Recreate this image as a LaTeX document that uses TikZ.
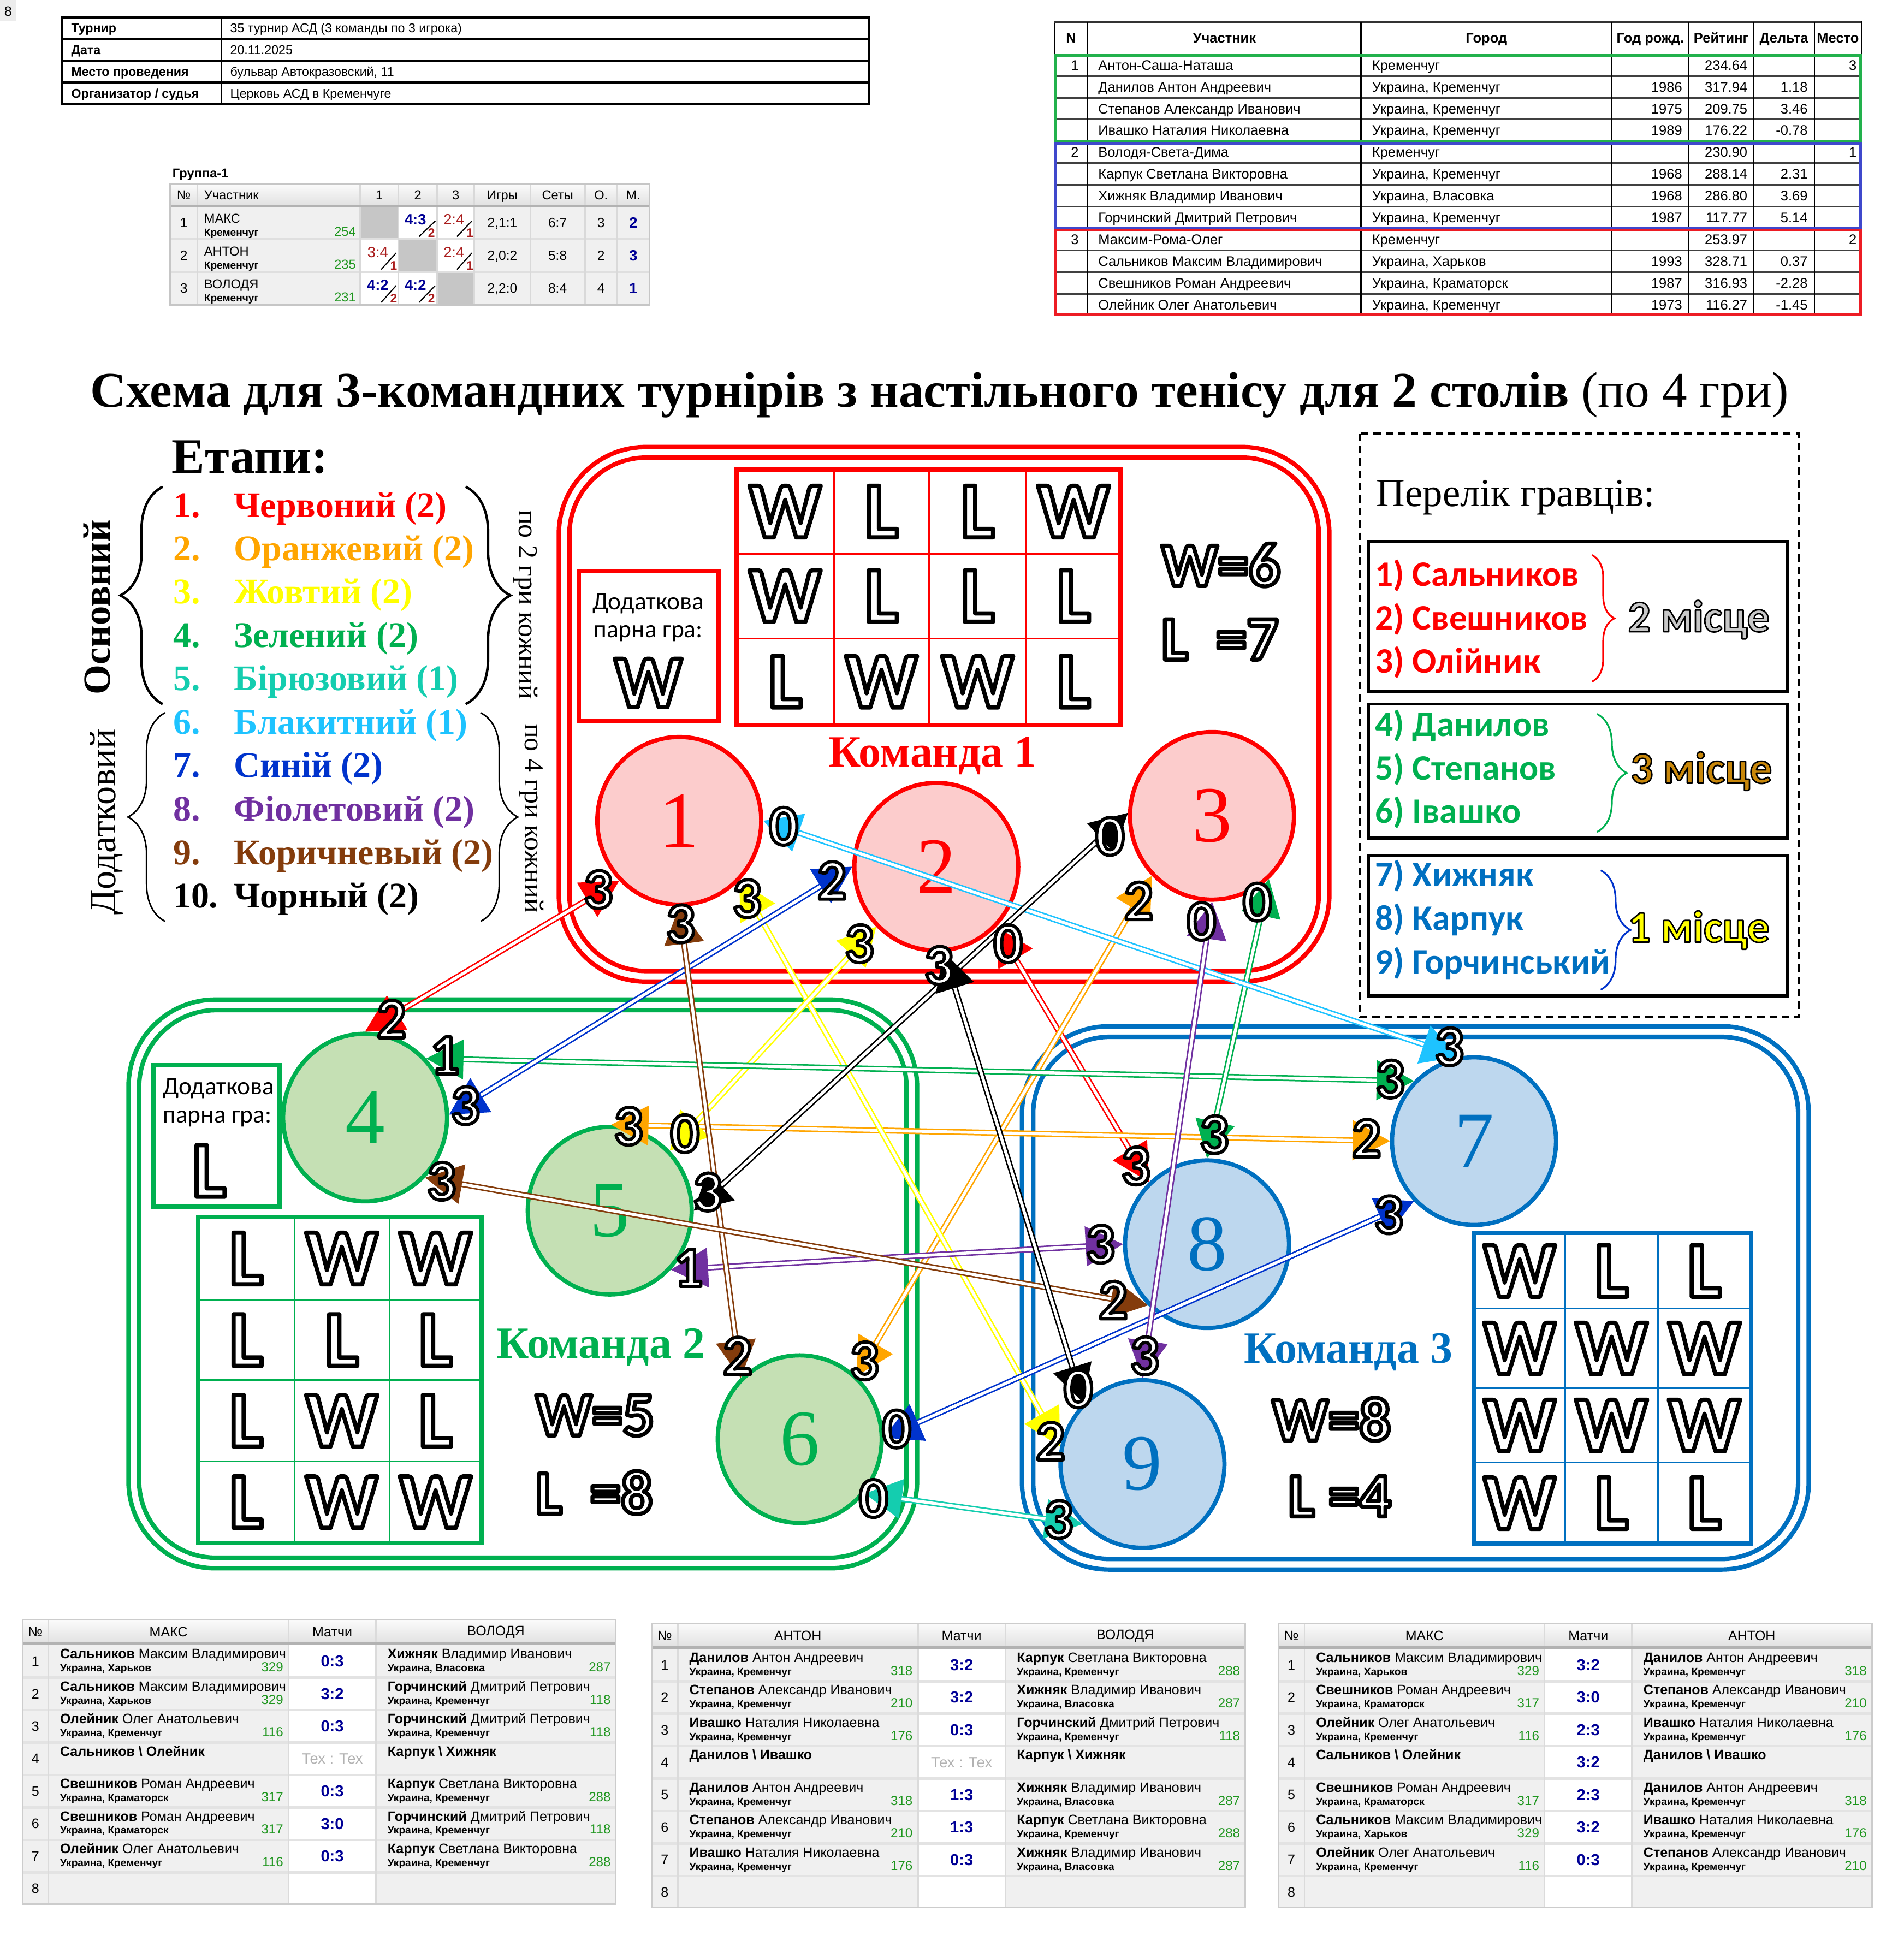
\documentclass[tikz,border=0pt]{standalone}
\usepackage{fontspec}
\setmainfont{Liberation Serif}
\newfontfamily\calf{Carlito}
\newfontfamily\ars{Liberation Sans}
\usetikzlibrary{shapes.geometric,arrows.meta,decorations.pathreplacing}
\newcommand\FS[1]{\fontsize{#1}{#1}\selectfont}
\newcommand\OL[2][1.3]{\special{pdf:literal direct 0 0 0 RG 1 j 2 Tr #1 w}#2\special{pdf:literal direct 0 Tr}}
\newcounter{nn}
\definecolor{cRed}{RGB}{255,0,0}
\definecolor{cOr}{RGB}{255,165,0}
\definecolor{cYe}{RGB}{255,255,0}
\definecolor{cGr}{RGB}{0,176,80}
\definecolor{cTu}{RGB}{20,205,175}
\definecolor{cLb}{RGB}{30,195,255}
\definecolor{cBl}{RGB}{0,51,204}
\definecolor{cPu}{RGB}{112,48,160}
\definecolor{cBr}{RGB}{132,60,12}
\definecolor{cBk}{RGB}{0,0,0}
\definecolor{cT1}{RGB}{252,204,204}
\definecolor{cT2}{RGB}{197,224,180}
\definecolor{cT3}{RGB}{189,215,238}
\definecolor{cB3}{RGB}{0,112,192}
\definecolor{tGr}{RGB}{34,177,76}
\definecolor{tBl}{RGB}{63,72,204}
\definecolor{tRd}{RGB}{237,28,36}
\definecolor{silv}{RGB}{200,200,200}
\definecolor{bronze}{RGB}{200,135,10}
\definecolor{sNavy}{RGB}{0,0,150}
\definecolor{sGreen}{RGB}{30,150,30}
\definecolor{dRed}{RGB}{170,30,30}
\newcommand\Tx[3]{\stepcounter{nn}\node[#1] (c\arabic{nn}) at (#2) {#3};}
\newcommand\TR[8]{%
 \pgfmathsetmacro\yy{56.4+17.54*#1}%
 \Tx{anchor=base east, font=\ars\FS{5.6}}{869,\yy}{#2}%
 \Tx{anchor=base west, font=\ars\FS{5.6}}{884,\yy}{#3}%
 \Tx{anchor=base west, font=\ars\FS{5.6}}{1104.5,\yy}{#4}%
 \Tx{anchor=base east, font=\ars\FS{5.6}}{1355,\yy}{#5}%
 \Tx{anchor=base east, font=\ars\FS{5.6}}{1407.5,\yy}{#6}%
 \Tx{anchor=base east, font=\ars\FS{5.6}}{1456,\yy}{#7}%
 \Tx{anchor=base east, font=\ars\FS{5.6}}{1495.5,\yy}{#8}}
\newcommand\BTab[4]{%
 \fill[gray!12] (#1,#2+19.5) rectangle (#1+478,#2+229);
 \fill[white] (#1+214.5,#2+19.5) rectangle (#1+284.7,#2+229);
 \shade[top color=gray!3, bottom color=gray!24] (#1,#2) rectangle (#1+478,#2+19.5);
 \foreach \k in {1,...,7} {\draw[gray!22, line width=1pt] (#1,#2+20.5+26.15*\k) -- (#1+478,#2+20.5+26.15*\k);}
 \foreach \xx in {21,214.5,284.7} {\draw[gray!28, line width=0.6pt] (#1+\xx,#2) -- (#1+\xx,#2+229);}
 \draw[gray!60, line width=1.1pt] (#1,#2+19.5) -- (#1+478,#2+19.5);
 \draw[gray!40, line width=0.6pt] (#1,#2) rectangle (#1+478,#2+229);
 \foreach \k in {1,...,8} {\stepcounter{nn}\node[font=\ars\FS{5.5}] (c\arabic{nn}) at (#1+10.5,#2+20.5+26.15*\k-13.1) {\k};}
 \Tx{font=\ars\FS{5.5}}{#1+10.5,#2+10}{№}
 \Tx{font=\ars\FS{5.5}}{#1+117.7,#2+10}{#3}
 \Tx{font=\ars\FS{5.5}}{#1+249.6,#2+10}{Матчи}
 \Tx{font=\ars\FS{5.5}}{#1+381.3,#2+10}{#4}}
\newcommand\PlC[6]{%
 \Tx{anchor=base west, font=\ars\FS{5.5}}{#1+9,#2+10.8}{\textbf{#3} #4}%
 \Tx{anchor=base west, font=\ars\bfseries\FS{4.2}}{#1+9,#2+21.3}{#5}%
 \Tx{anchor=base east, font=\ars\FS{5.3}, text=sGreen}{#1+189.5,#2+21.3}{#6}}
\newcommand\PairC[3]{\Tx{anchor=base west, font=\ars\bfseries\FS{5.5}}{#1+9,#2+10.8}{#3}}
\newcommand\ScC[3]{\Tx{font=\ars\bfseries\FS{6.4}, text=sNavy}{#1+249.6,#2+13}{#3}}
\newcommand\TexC[2]{\Tx{font=\ars\FS{6}, text=gray!60}{#1+249.6,#2+13}{Тех : Тех}}
\newcommand\Stg[4]{\Tx{anchor=base west, font=\bfseries\FS{14.5}, text=#2}{139,#1}{#3}\Tx{anchor=base west, font=\bfseries\FS{14.5}, text=#2}{188,#1}{#4}}
\begin{document}
\begin{tikzpicture}[x=0.5pt,y=-0.5pt,
 every node/.style={inner sep=0pt},
 pl/.style={ellipse, minimum width=66pt, minimum height=67.5pt, line width=1.7pt, font=\FS{32}},
 pA/.style={pl, draw=cRed, fill=cT1, text=cRed},
 pB/.style={pl, draw=cGr, fill=cT2, text=cGr},
 pC/.style={pl, draw=cB3, fill=cT3, text=cB3},
 mline/.style={draw=#1, line width=0.6pt, double=white, double distance=1.2pt,
   {Triangle[length=15pt,width=16pt,color=#1,fill=#1]}-{Triangle[length=15pt,width=16pt,color=#1,fill=#1]}},
 dig/.style={font=\calf\bfseries\FS{23}, text=white},
 wl/.style={font=\calf\bfseries\FS{32}, text=white},
 we/.style={font=\calf\bfseries\FS{25}, text=white, anchor=west},
 nm/.style={anchor=base west, font=\calf\bfseries\FS{14.4}}]
\fill[white] (0,0) rectangle (1533,1568);
\useasboundingbox (0,0) rectangle (1533,1568);
% corner
\fill[gray!15] (0,0) rectangle (13,17);
\Tx{font=\ars\FS{5.5}}{6.5,9}{8}
% info table
\draw[line width=0.9pt] (50,14) rectangle (700,84);
\draw[line width=0.9pt] (50,31.3)--(700,31.3) (50,48.8)--(700,48.8) (50,66.4)--(700,66.4);
\draw[line width=0.5pt] (178,14)--(178,84);
\Tx{anchor=base west, font=\ars\bfseries\FS{5.1}}{57,26.2}{Турнир}
\Tx{anchor=base west, font=\ars\FS{5.1}}{185,26.2}{35 турнир АСД (3 команды по 3 игрока)}
\Tx{anchor=base west, font=\ars\bfseries\FS{5.1}}{57,43.7}{Дата}
\Tx{anchor=base west, font=\ars\FS{5.1}}{185,43.7}{20.11.2025}
\Tx{anchor=base west, font=\ars\bfseries\FS{5.1}}{57,61.2}{Место проведения}
\Tx{anchor=base west, font=\ars\FS{5.1}}{185,61.2}{бульвар Автокразовский, 11}
\Tx{anchor=base west, font=\ars\bfseries\FS{5.1}}{57,78.8}{Организатор / судья}
\Tx{anchor=base west, font=\ars\FS{5.1}}{185,78.8}{Церковь АСД в Кременчуге}
% group table
\Tx{anchor=base west, font=\ars\bfseries\FS{5.2}}{138.5,143}{Группа-1}
\fill[gray!12] (137,166) rectangle (523,245.5);
\shade[top color=gray!3, bottom color=gray!24] (137,148) rectangle (523,166);
\fill[white] (321,166) rectangle (382,192.5) (290,192.5) rectangle (321,219) (352,192.5) rectangle (382,219) (290,219) rectangle (352,245.5);
\fill[gray!45] (290,166) rectangle (321,192.5) (321,192.5) rectangle (352,219) (352,219) rectangle (382,245.5);
\draw[gray!25, line width=0.8pt] (137,192.5)--(523,192.5) (137,219)--(523,219);
\foreach \xx in {159,290,321,352,382,427,471,497} {\draw[gray!30, line width=0.6pt] (\xx,148)--(\xx,245.5);}
\draw[gray!60, line width=1pt] (137,166)--(523,166);
\draw[gray!45, line width=0.6pt] (137,148) rectangle (523,245.5);
\Tx{anchor=base, font=\ars\FS{5.2}}{148,160.5}{№}
\Tx{anchor=base west, font=\ars\FS{5.2}}{164,160.5}{Участник}
\Tx{anchor=base, font=\ars\FS{5.2}}{305.5,160.5}{1}
\Tx{anchor=base, font=\ars\FS{5.2}}{336.5,160.5}{2}
\Tx{anchor=base, font=\ars\FS{5.2}}{367,160.5}{3}
\Tx{anchor=base, font=\ars\FS{5.2}}{404.5,160.5}{Игры}
\Tx{anchor=base, font=\ars\FS{5.2}}{449,160.5}{Сеты}
\Tx{anchor=base, font=\ars\FS{5.2}}{484,160.5}{О.}
\Tx{anchor=base, font=\ars\FS{5.2}}{510,160.5}{М.}
\Tx{anchor=base, font=\ars\FS{5.4}}{148,183}{1}
\Tx{anchor=base, font=\ars\FS{5.4}}{148,209.5}{2}
\Tx{anchor=base, font=\ars\FS{5.4}}{148,236}{3}
\Tx{anchor=base west, font=\ars\FS{5.2}}{164,179.5}{МАКС}
\Tx{anchor=base west, font=\ars\bfseries\FS{4.2}}{164,190}{Кременчуг}
\Tx{anchor=base east, font=\ars\FS{5.2}, text=sGreen}{287,190}{254}
\Tx{anchor=base west, font=\ars\FS{5.2}}{164,206}{АНТОН}
\Tx{anchor=base west, font=\ars\bfseries\FS{4.2}}{164,216.5}{Кременчуг}
\Tx{anchor=base east, font=\ars\FS{5.2}, text=sGreen}{287,216.5}{235}
\Tx{anchor=base west, font=\ars\FS{5.2}}{164,232.5}{ВОЛОДЯ}
\Tx{anchor=base west, font=\ars\bfseries\FS{4.2}}{164,243}{Кременчуг}
\Tx{anchor=base east, font=\ars\FS{5.2}, text=sGreen}{287,243}{231}
\Tx{font=\ars\bfseries\FS{6}, text=sNavy}{334.5,176.6}{4:3}
\Tx{font=\ars\FS{6}, text=dRed}{365.5,176.6}{2:4}
\Tx{font=\ars\FS{6}, text=dRed}{304.2,203}{3:4}
\Tx{font=\ars\FS{6}, text=dRed}{365.5,203}{2:4}
\Tx{font=\ars\bfseries\FS{6}, text=sNavy}{304.2,229.5}{4:2}
\Tx{font=\ars\bfseries\FS{6}, text=sNavy}{334.5,229.5}{4:2}
\draw[line width=0.45pt] (337.5,190.5)--(350.5,178) (368,190.5)--(380,178) (307,217)--(319,203.7) (368,217)--(380,203.7) (307,243.5)--(319,230) (337.5,243.5)--(350.5,230);
\Tx{font=\ars\bfseries\FS{5}, text=dRed}{347.5,187.6}{2}
\Tx{font=\ars\bfseries\FS{5}, text=dRed}{378.3,187.6}{1}
\Tx{font=\ars\bfseries\FS{5}, text=dRed}{317,214}{1}
\Tx{font=\ars\bfseries\FS{5}, text=dRed}{378.3,214}{1}
\Tx{font=\ars\bfseries\FS{5}, text=dRed}{317,240.4}{2}
\Tx{font=\ars\bfseries\FS{5}, text=dRed}{347.5,240.4}{2}
\Tx{anchor=base, font=\ars\FS{5.4}}{404.5,183}{2,1:1}
\Tx{anchor=base, font=\ars\FS{5.4}}{449,183}{6:7}
\Tx{anchor=base, font=\ars\FS{5.4}}{484,183}{3}
\Tx{anchor=base, font=\ars\bfseries\FS{6}, text=sNavy}{510,183.5}{2}
\Tx{anchor=base, font=\ars\FS{5.4}}{404.5,209.5}{2,0:2}
\Tx{anchor=base, font=\ars\FS{5.4}}{449,209.5}{5:8}
\Tx{anchor=base, font=\ars\FS{5.4}}{484,209.5}{2}
\Tx{anchor=base, font=\ars\bfseries\FS{6}, text=sNavy}{510,210}{3}
\Tx{anchor=base, font=\ars\FS{5.4}}{404.5,236}{2,2:0}
\Tx{anchor=base, font=\ars\FS{5.4}}{449,236}{8:4}
\Tx{anchor=base, font=\ars\FS{5.4}}{484,236}{4}
\Tx{anchor=base, font=\ars\bfseries\FS{6}, text=sNavy}{510,236.5}{1}
% top right table
\draw[line width=0.5pt] (849,17.6) rectangle (1499,254);
\draw[line width=1pt, gray!40!black] (849,17.6) -- (1499,17.6);
\foreach \k in {0,...,11} {\draw[gray!50!black, line width=0.7pt] (849,43.6+17.54*\k) -- (1499,43.6+17.54*\k);}
\foreach \xx in {876,1096,1298,1360,1412,1461} {\draw[line width=0.5pt] (\xx,17.6) -- (\xx,254);}
\Tx{anchor=base, font=\ars\bfseries\FS{5.6}}{862.5,34.6}{N}
\Tx{anchor=base, font=\ars\bfseries\FS{5.6}}{986,34.6}{Участник}
\Tx{anchor=base, font=\ars\bfseries\FS{5.6}}{1197,34.6}{Город}
\Tx{anchor=base, font=\ars\bfseries\FS{5.6}}{1329,34.6}{Год рожд.}
\Tx{anchor=base, font=\ars\bfseries\FS{5.6}}{1386,34.6}{Рейтинг}
\Tx{anchor=base, font=\ars\bfseries\FS{5.6}}{1436.5,34.6}{Дельта}
\Tx{anchor=base, font=\ars\bfseries\FS{5.6}}{1480,34.6}{Место}
\TR{0}{1}{Антон-Саша-Наташа}{Кременчуг}{}{234.64}{}{3}
\TR{1}{}{Данилов Антон Андреевич}{Украина, Кременчуг}{1986}{317.94}{1.18}{}
\TR{2}{}{Степанов Александр Иванович}{Украина, Кременчуг}{1975}{209.75}{3.46}{}
\TR{3}{}{Ивашко Наталия Николаевна}{Украина, Кременчуг}{1989}{176.22}{-0.78}{}
\TR{4}{2}{Володя-Света-Дима}{Кременчуг}{}{230.90}{}{1}
\TR{5}{}{Карпук Светлана Викторовна}{Украина, Кременчуг}{1968}{288.14}{2.31}{}
\TR{6}{}{Хижняк Владимир Иванович}{Украина, Власовка}{1968}{286.80}{3.69}{}
\TR{7}{}{Горчинский Дмитрий Петрович}{Украина, Кременчуг}{1987}{117.77}{5.14}{}
\TR{8}{3}{Максим-Рома-Олег}{Кременчуг}{}{253.97}{}{2}
\TR{9}{}{Сальников Максим Владимирович}{Украина, Харьков}{1993}{328.71}{0.37}{}
\TR{10}{}{Свешников Роман Андреевич}{Украина, Краматорск}{1987}{316.93}{-2.28}{}
\TR{11}{}{Олейник Олег Анатольевич}{Украина, Кременчуг}{1973}{116.27}{-1.45}{}
\draw[tGr, line width=1.1pt] (850,44.5) rectangle (1498.5,114);
\draw[tBl, line width=1.1pt] (850,115.5) rectangle (1498.5,183.5);
\draw[tRd, line width=1.1pt] (850,185.5) rectangle (1498.5,253.5);
% title
\node[font=\bfseries\FS{20.1}] (title) at (756.5,318) {Схема для 3-командних турнірів з настільного тенісу для 2 столів \mdseries(по 4 гри)};
% stages
\node[anchor=base west, font=\bfseries\FS{20}] (etapy) at (138,381) {Етапи:};
\Stg{416.4}{cRed}{1.}{Червоний (2)}
\Stg{451.2}{cOr}{2.}{Оранжевий (2)}
\Stg{486.3}{cYe}{3.}{Жовтий (2)}
\Stg{521.4}{cGr}{4.}{Зелений (2)}
\Stg{556.1}{cTu}{5.}{Бірюзовий (1)}
\Stg{591.3}{cLb}{6.}{Блакитний (1)}
\Stg{626}{cBl}{7.}{Синій (2)}
\Stg{661.2}{cPu}{8.}{Фіолетовий (2)}
\Stg{696.4}{cBr}{9.}{Коричневый (2)}
\Stg{731.1}{black}{10.}{Чорный (2)}
\draw[line width=1pt, decorate, decoration={brace, amplitude=17pt}] (131,567) -- (131,392);
\draw[line width=0.6pt, decorate, decoration={brace, amplitude=15pt}] (133,742) -- (133,574);
\draw[line width=1pt, decorate, decoration={brace, amplitude=18pt}] (375,392) -- (375,567);
\draw[line width=0.6pt, decorate, decoration={brace, amplitude=15pt}] (387,574) -- (387,742);
\node[rotate=90, font=\bfseries\FS{15.5}] (osn) at (78,489) {Основний};
\node[rotate=90, font=\FS{15}] (dod) at (86,662) {Додатковий};
\node[rotate=-90, font=\FS{11}] (po2) at (423,487) {по 2 гри кожний};
\node[rotate=-90, font=\FS{11}] (po4) at (428,659) {по 4 гри кожний};
% team boxes
\draw[cRed, line width=1.8pt, rounded corners=35pt] (450,360) rectangle (1070.5,790.5);
\draw[cRed, line width=1.8pt, rounded corners=31pt] (458.5,368.5) rectangle (1062,782);
\draw[cGr, line width=1.8pt, rounded corners=35pt] (103.5,805) rectangle (738.5,1263);
\draw[cGr, line width=1.8pt, rounded corners=31pt] (112,813.5) rectangle (730,1254.5);
\draw[cB3, line width=1.8pt, rounded corners=35pt] (823,826.5) rectangle (1456.5,1264);
\draw[cB3, line width=1.8pt, rounded corners=31pt] (832,835) rectangle (1448,1255.5);
% team 1 content
\draw[cRed, line width=0.6pt] (671.5,378)--(671.5,584) (748,378)--(748,584) (826.5,378)--(826.5,584) (593,446)--(902.5,446) (593,514)--(902.5,514);
\draw[cRed, line width=1.8pt] (593,378) rectangle (902.5,584);
\foreach \xx/\yy/\ll [count=\i] in {632.2/412/W, 709.8/412/L, 787.2/412/L, 864.5/412/W, 632.2/480/W, 709.8/480/L, 787.2/480/L, 864.5/480/L, 632.2/549/L, 709.8/549/W, 787.2/549/W, 864.5/549/L} {\node[wl] (ga\i) at (\xx,\yy) {\OL[1.7]{\ll}};}
\draw[cRed, line width=1.8pt] (466,460) rectangle (578.5,580.5);
\node[font=\calf\FS{10}] (d1a) at (522,486) {Додаткова};
\node[font=\calf\FS{10}] (d1b) at (522,510) {парна гра:};
\node[wl, font=\calf\bfseries\FS{30}] (d1c) at (522,550) {\OL[1.7]{W}};
\node[font=\bfseries\FS{18}, text=cRed] (k1) at (751,609) {Команда 1};
\node[we] (w1) at (935,455) {\OL[1.6]{W=6}};
\node[we] (l1) at (935,515) {\OL[1.6]{L\ \ =7}};
% team 2 content
\draw[cGr, line width=0.6pt] (237,980)--(237,1242.5) (313.5,980)--(313.5,1242.5) (159.5,1047)--(388,1047) (159.5,1111.5)--(388,1111.5) (159.5,1177)--(388,1177);
\draw[cGr, line width=1.8pt] (159.5,980) rectangle (388,1242.5);
\foreach \xx/\yy/\ll [count=\i] in {198.2/1013.5/L, 275.2/1013.5/W, 350.7/1013.5/W, 198.2/1079.2/L, 275.2/1079.2/L, 350.7/1079.2/L, 198.2/1144.2/L, 275.2/1144.2/W, 350.7/1144.2/L, 198.2/1209.7/L, 275.2/1209.7/W, 350.7/1209.7/W} {\node[wl] (gb\i) at (\xx,\yy) {\OL[1.7]{\ll}};}
\draw[cGr, line width=1.8pt] (123.5,858) rectangle (225,972);
\node[font=\calf\FS{10}] (d2a) at (176,876.8) {Додаткова};
\node[font=\calf\FS{10}] (d2b) at (175,901.2) {парна гра:};
\node[wl] (d2c) at (168.4,943) {\OL[1.7]{L}};
\node[font=\bfseries\FS{18}, text=cGr] (k2) at (484,1085) {Команда 2};
\node[we] (w2) at (431,1140) {\OL[1.6]{W=5}};
\node[we] (l2) at (431,1202) {\OL[1.6]{L\ \ =8}};
% team 3 content
\draw[cB3, line width=0.6pt] (1260.5,993)--(1260.5,1243) (1335,993)--(1335,1243) (1187,1054)--(1410,1054) (1187,1118)--(1410,1118) (1187,1178)--(1410,1178);
\draw[cB3, line width=1.8pt] (1187,993) rectangle (1410,1243);
\foreach \xx/\yy/\ll [count=\i] in {1223.7/1023.5/W, 1297.7/1023.5/L, 1372.5/1023.5/L, 1223.7/1086/W, 1297.7/1086/W, 1372.5/1086/W, 1223.7/1148/W, 1297.7/1148/W, 1372.5/1148/W, 1223.7/1210.5/W, 1297.7/1210.5/L, 1372.5/1210.5/L} {\node[wl] (gc\i) at (\xx,\yy) {\OL[1.7]{\ll}};}
\node[font=\bfseries\FS{18}, text=cB3] (k3) at (1086,1089) {Команда 3};
\node[we] (w3) at (1024,1143) {\OL[1.6]{W=8}};
\node[we] (l3) at (1037,1205) {\OL[1.6]{L =4}};
% players
\node[pA] (n1) at (547,661) {1};
\node[pA] (n2) at (754,698) {2};
\node[pA] (n3) at (976,657) {3};
\node[pB] (n4) at (294,900) {4};
\node[pB] (n5) at (491,975) {5};
\node[pB] (n6) at (644,1159) {6};
\node[pC] (n7) at (1187,919) {7};
\node[pC] (n8) at (972,1002) {8};
\node[pC] (n9) at (920,1179) {9};
% matches
\draw[mline=cRed] (n1.225) -- (n4.90);
\draw[mline=cRed] (n2.315) -- (n8.133);
\draw[mline=cOr] (n3.225) -- (n6.48);
\draw[mline=cOr] (n5.89) -- (n7.180);
\draw[mline=cYe] (n1.315) -- (n9.168);
\draw[mline=cYe] (n2.225) -- (n5.45);
\draw[mline=cGr] (n4.44) -- (n7.135);
\draw[mline=cGr] (n3.312) -- (n8.90);
\draw[mline=cTu] (n6.320) -- (n9.225);
\draw[mline=cLb] (n1.0) -- (n7.100);
\draw[mline=cBl] (n2.180) -- (n4.2);
\draw[mline=cBl] (n6.1) -- (n7.225);
\draw[mline=cPu] (n3.270) -- (n9.90);
\draw[mline=cPu] (n5.316) -- (n8.180);
\draw[mline=cBr] (n1.270) -- (n6.134);
\draw[mline=cBr] (n4.315) -- (n8.226);
\draw[mline=cBk] (n3.178) -- (n5.0);
\draw[mline=cBk] (n2.275) -- (n9.134);
% scores
\node[dig] (sR1a) at (481.7,716.4) {\OL{3}};
\node[dig] (sR1b) at (315.3,820.7) {\OL{2}};
\node[dig] (sR2a) at (811.8,760) {\OL{0}};
\node[dig] (sR2b) at (914.6,939) {\OL{3}};
\node[dig] (sO1a) at (917,725.5) {\OL{2}};
\node[dig] (sO1b) at (696,1096) {\OL{3}};
\node[dig] (sO2a) at (506,907) {\OL{3}};
\node[dig] (sO2b) at (1100.5,916.6) {\OL{2}};
\node[dig] (sY1a) at (601.5,723.7) {\OL{3}};
\node[dig] (sY1b) at (846,1160.6) {\OL{2}};
\node[dig] (sY2a) at (692,760) {\OL{3}};
\node[dig] (sY2b) at (551.5,913) {\OL{0}};
\node[dig] (sG1a) at (358.3,850) {\OL{1}};
\node[dig] (sG1b) at (1119.4,869) {\OL{3}};
\node[dig] (sG2a) at (1012.5,726.5) {\OL{0}};
\node[dig] (sG2b) at (977.7,913.8) {\OL{3}};
\node[dig] (sT1a) at (703.4,1206.8) {\OL{0}};
\node[dig] (sT1b) at (852.3,1223.7) {\OL{3}};
\node[dig] (sL1a) at (631,665.4) {\OL{0}};
\node[dig] (sL1b) at (1167,843) {\OL{3}};
\node[dig] (sB1a) at (670,709) {\OL{2}};
\node[dig] (sB1b) at (374.7,890.4) {\OL{3}};
\node[dig] (sB2a) at (722,1150.8) {\OL{0}};
\node[dig] (sB2b) at (1118.2,978.3) {\OL{3}};
\node[dig] (sP1a) at (967.5,742) {\OL{0}};
\node[dig] (sP1b) at (921.7,1091.9) {\OL{3}};
\node[dig] (sP2a) at (554.4,1021) {\OL{1}};
\node[dig] (sP2b) at (886,1002) {\OL{3}};
\node[dig] (sW1a) at (548,744) {\OL{3}};
\node[dig] (sW1b) at (594,1092) {\OL{2}};
\node[dig] (sW2a) at (355.4,951.3) {\OL{3}};
\node[dig] (sW2b) at (896.5,1047) {\OL{2}};
\node[dig] (sK1a) at (893.8,673.6) {\OL{0}};
\node[dig] (sK1b) at (569.7,960) {\OL{3}};
\node[dig] (sK2a) at (756,777.5) {\OL{3}};
\node[dig] (sK2b) at (868.3,1118.5) {\OL{0}};
% players list
\draw[dash pattern=on 3pt off 2pt, line width=0.8pt] (1095,349) rectangle (1448.5,819);
\node[anchor=base west, font=\FS{16}] (per) at (1108,408) {Перелік гравців:};
\draw[line width=1.3pt] (1102,436) rectangle (1439,557);
\draw[line width=1.3pt] (1102,567) rectangle (1439,675);
\draw[line width=1.3pt] (1102,689) rectangle (1439,802);
\node[nm, text=cRed] (p1) at (1107,472) {1) Сальников};
\node[nm, text=cRed] (p2) at (1107,507) {2) Свешников};
\node[nm, text=cRed] (p3) at (1107,542) {3) Олійник};
\node[nm, text=cGr] (p4) at (1107,593) {4) Данилов};
\node[nm, text=cGr] (p5) at (1107,628) {5) Степанов};
\node[nm, text=cGr] (p6) at (1107,663) {6) Івашко};
\node[nm, text=cB3] (p7) at (1107,714) {7) Хижняк};
\node[nm, text=cB3] (p8) at (1107,749) {8) Карпук};
\node[nm, text=cB3] (p9) at (1107,784) {9) Горчинський};
\draw[cRed, line width=0.7pt, decorate, decoration={brace, amplitude=9pt}] (1282,447) -- (1282,549);
\draw[cGr, line width=0.7pt, decorate, decoration={brace, amplitude=12pt}] (1286,575) -- (1286,670);
\draw[cBl, line width=0.7pt, decorate, decoration={brace, amplitude=12pt}] (1289,701) -- (1289,797);
\node[font=\calf\bfseries\FS{18}, text=silv] (m2) at (1368,499) {\OL[0.6]{2 місце}};
\node[font=\calf\bfseries\FS{18}, text=bronze] (m3) at (1370,621) {\OL[0.6]{3 місце}};
\node[font=\calf\bfseries\FS{18}, text=cYe] (m1) at (1368,749) {\OL[0.6]{1 місце}};
% bottom tables
\BTab{18}{1304.4}{МАКС}{ВОЛОДЯ}
\PlC{39}{1324.9}{Сальников}{Максим Владимирович}{Украина, Харьков}{329}
\ScC{18}{1324.9}{0:3}
\PlC{302.7}{1324.9}{Хижняк}{Владимир Иванович}{Украина, Власовка}{287}
\PlC{39}{1351.05}{Сальников}{Максим Владимирович}{Украина, Харьков}{329}
\ScC{18}{1351.05}{3:2}
\PlC{302.7}{1351.05}{Горчинский}{Дмитрий Петрович}{Украина, Кременчуг}{118}
\PlC{39}{1377.2}{Олейник}{Олег Анатольевич}{Украина, Кременчуг}{116}
\ScC{18}{1377.2}{0:3}
\PlC{302.7}{1377.2}{Горчинский}{Дмитрий Петрович}{Украина, Кременчуг}{118}
\PairC{39}{1403.35}{Сальников \textbackslash{} Олейник}
\TexC{18}{1403.35}
\PairC{302.7}{1403.35}{Карпук \textbackslash{} Хижняк}
\PlC{39}{1429.5}{Свешников}{Роман Андреевич}{Украина, Краматорск}{317}
\ScC{18}{1429.5}{0:3}
\PlC{302.7}{1429.5}{Карпук}{Светлана Викторовна}{Украина, Кременчуг}{288}
\PlC{39}{1455.65}{Свешников}{Роман Андреевич}{Украина, Краматорск}{317}
\ScC{18}{1455.65}{3:0}
\PlC{302.7}{1455.65}{Горчинский}{Дмитрий Петрович}{Украина, Кременчуг}{118}
\PlC{39}{1481.8}{Олейник}{Олег Анатольевич}{Украина, Кременчуг}{116}
\ScC{18}{1481.8}{0:3}
\PlC{302.7}{1481.8}{Карпук}{Светлана Викторовна}{Украина, Кременчуг}{288}
\BTab{524.8}{1307.3}{АНТОН}{ВОЛОДЯ}
\PlC{545.8}{1327.8}{Данилов}{Антон Андреевич}{Украина, Кременчуг}{318}
\ScC{524.8}{1327.8}{3:2}
\PlC{809.5}{1327.8}{Карпук}{Светлана Викторовна}{Украина, Кременчуг}{288}
\PlC{545.8}{1353.95}{Степанов}{Александр Иванович}{Украина, Кременчуг}{210}
\ScC{524.8}{1353.95}{3:2}
\PlC{809.5}{1353.95}{Хижняк}{Владимир Иванович}{Украина, Власовка}{287}
\PlC{545.8}{1380.1}{Ивашко}{Наталия Николаевна}{Украина, Кременчуг}{176}
\ScC{524.8}{1380.1}{0:3}
\PlC{809.5}{1380.1}{Горчинский}{Дмитрий Петрович}{Украина, Кременчуг}{118}
\PairC{545.8}{1406.25}{Данилов \textbackslash{} Ивашко}
\TexC{524.8}{1406.25}
\PairC{809.5}{1406.25}{Карпук \textbackslash{} Хижняк}
\PlC{545.8}{1432.4}{Данилов}{Антон Андреевич}{Украина, Кременчуг}{318}
\ScC{524.8}{1432.4}{1:3}
\PlC{809.5}{1432.4}{Хижняк}{Владимир Иванович}{Украина, Власовка}{287}
\PlC{545.8}{1458.55}{Степанов}{Александр Иванович}{Украина, Кременчуг}{210}
\ScC{524.8}{1458.55}{1:3}
\PlC{809.5}{1458.55}{Карпук}{Светлана Викторовна}{Украина, Кременчуг}{288}
\PlC{545.8}{1484.7}{Ивашко}{Наталия Николаевна}{Украина, Кременчуг}{176}
\ScC{524.8}{1484.7}{0:3}
\PlC{809.5}{1484.7}{Хижняк}{Владимир Иванович}{Украина, Власовка}{287}
\BTab{1029.4}{1307.3}{МАКС}{АНТОН}
\PlC{1050.4}{1327.8}{Сальников}{Максим Владимирович}{Украина, Харьков}{329}
\ScC{1029.4}{1327.8}{3:2}
\PlC{1314.1}{1327.8}{Данилов}{Антон Андреевич}{Украина, Кременчуг}{318}
\PlC{1050.4}{1353.95}{Свешников}{Роман Андреевич}{Украина, Краматорск}{317}
\ScC{1029.4}{1353.95}{3:0}
\PlC{1314.1}{1353.95}{Степанов}{Александр Иванович}{Украина, Кременчуг}{210}
\PlC{1050.4}{1380.1}{Олейник}{Олег Анатольевич}{Украина, Кременчуг}{116}
\ScC{1029.4}{1380.1}{2:3}
\PlC{1314.1}{1380.1}{Ивашко}{Наталия Николаевна}{Украина, Кременчуг}{176}
\PairC{1050.4}{1406.25}{Сальников \textbackslash{} Олейник}
\ScC{1029.4}{1406.25}{3:2}
\PairC{1314.1}{1406.25}{Данилов \textbackslash{} Ивашко}
\PlC{1050.4}{1432.4}{Свешников}{Роман Андреевич}{Украина, Краматорск}{317}
\ScC{1029.4}{1432.4}{2:3}
\PlC{1314.1}{1432.4}{Данилов}{Антон Андреевич}{Украина, Кременчуг}{318}
\PlC{1050.4}{1458.55}{Сальников}{Максим Владимирович}{Украина, Харьков}{329}
\ScC{1029.4}{1458.55}{3:2}
\PlC{1314.1}{1458.55}{Ивашко}{Наталия Николаевна}{Украина, Кременчуг}{176}
\PlC{1050.4}{1484.7}{Олейник}{Олег Анатольевич}{Украина, Кременчуг}{116}
\ScC{1029.4}{1484.7}{0:3}
\PlC{1314.1}{1484.7}{Степанов}{Александр Иванович}{Украина, Кременчуг}{210}
\end{tikzpicture}
\end{document}
